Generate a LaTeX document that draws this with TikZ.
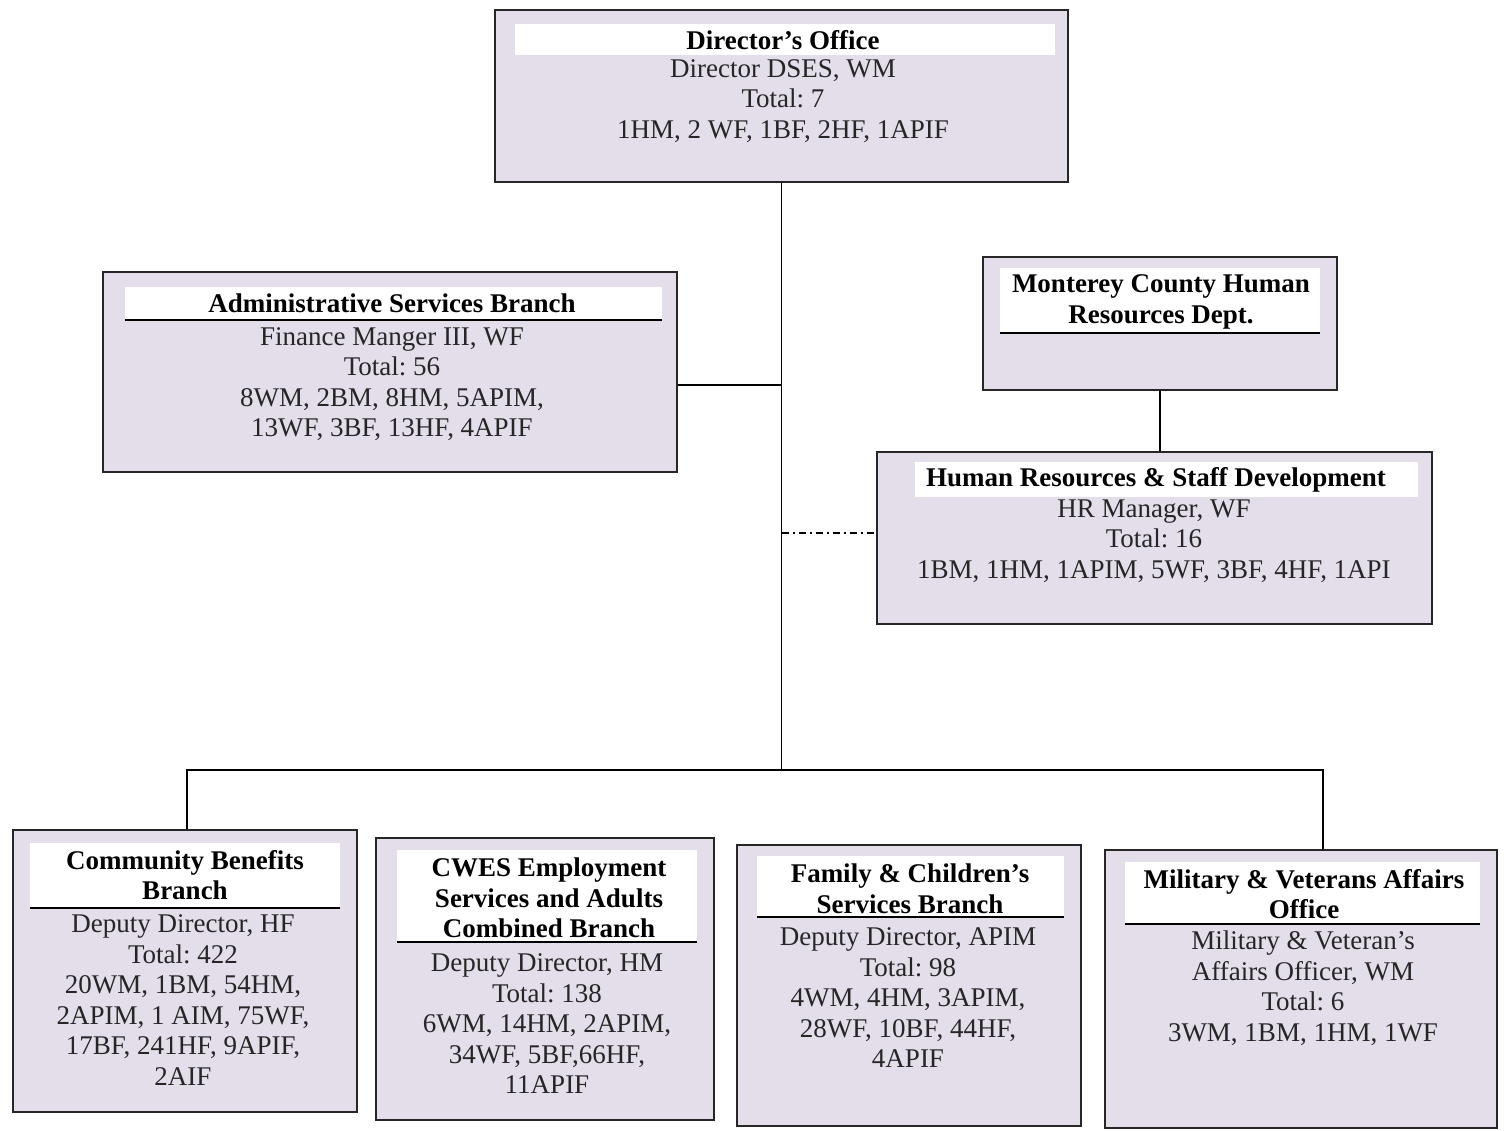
\documentclass[tikz,border=0pt]{standalone}
\usepackage{fontspec}
\setmainfont{Liberation Serif}
\frenchspacing
\definecolor{boxfill}{RGB}{228,221,234}
\begin{document}
\begin{tikzpicture}[x=1pt,y=-1pt,
  unit/.style={draw=black!85, line width=1.8pt, fill=boxfill, inner sep=0pt},
  band/.style={fill=white, draw=none},
  rule/.style={draw=black, line width=1.3pt},
  ttl/.style={font=\fontsize{27}{30.5}\selectfont\bfseries, align=center, inner sep=0pt},
  body/.style={font=\fontsize{27}{30.5}\selectfont, align=center, inner sep=0pt, text=black!85},
  link/.style={draw=black, line width=1.5pt}]
\useasboundingbox[fill=white] (0,0) rectangle (1507,1130);

% boxes
\node[unit, minimum width=573pt, minimum height=172pt] (dir) at (781.5,96) {};
\node[unit, minimum width=574pt, minimum height=200pt] (adm) at (390,372) {};
\node[unit, minimum width=354pt, minimum height=133pt] (mc) at (1160,323.5) {};
\node[unit, minimum width=555pt, minimum height=172pt] (hr) at (1154.5,538) {};
\node[unit, minimum width=344pt, minimum height=282pt] (cb) at (185,971) {};
\node[unit, minimum width=338pt, minimum height=282pt] (cw) at (545,979) {};
\node[unit, minimum width=344pt, minimum height=281pt] (fc) at (909,985.5) {};
\node[unit, minimum width=392pt, minimum height=278pt] (mil) at (1301,989) {};

% title bands
\fill[band] (515,24) rectangle (1055,55);
\fill[band] (125,287) rectangle (662,320); \draw[rule] (125,320) -- (662,320);
\fill[band] (1000,268) rectangle (1320,333); \draw[rule] (1000,333) -- (1320,333);
\fill[band] (915,462) rectangle (1418,497);
\fill[band] (30,843) rectangle (340,908); \draw[rule] (30,908) -- (340,908);
\fill[band] (397,850) rectangle (697,942); \draw[rule] (397,942) -- (697,942);
\fill[band] (757,856) rectangle (1064,917); \draw[rule] (757,917) -- (1064,917);
\fill[band] (1125,862) rectangle (1480,924); \draw[rule] (1125,924) -- (1480,924);

% texts
\node[ttl] (dirT) at (783,40) {Director’s Office};
\node[body] (dirB) at (783,101) {Director DSES, WM\\Total: 7\\1HM, 2 WF, 1BF, 2HF, 1APIF};
\node[ttl] (admT) at (392,303) {Administrative Services Branch};
\node[body] (admB) at (392,384) {Finance Manger III, WF\\Total: 56\\8WM, 2BM, 8HM, 5APIM,\\13WF, 3BF, 13HF, 4APIF};
\node[ttl] (mcT) at (1161,302) {Monterey County Human\\Resources Dept.};
\node[ttl] (hrT) at (1156,480) {Human Resources \& Staff Development};
\node[body] (hrB) at (1154,541) {HR Manager, WF\\Total: 16\\1BM, 1HM, 1APIM, 5WF, 3BF, 4HF, 1API};
\node[ttl] (cbT) at (185,875) {Community Benefits\\Branch};
\node[body] (cbB) at (183,1000) {Deputy Director, HF\\Total: 422\\20WM, 1BM, 54HM,\\2APIM, 1 AIM, 75WF,\\17BF, 241HF, 9APIF,\\2AIF};
\node[ttl] (cwT) at (549,898) {CWES Employment\\Services and Adults\\Combined Branch};
\node[body] (cwB) at (547,1024) {Deputy Director, HM\\Total: 138\\6WM, 14HM, 2APIM,\\34WF, 5BF,66HF,\\11APIF};
\node[ttl] (fcT) at (910,889) {Family \& Children’s\\Services Branch};
\node[body] (fcB) at (908,998) {Deputy Director, APIM\\Total: 98\\4WM, 4HM, 3APIM,\\28WF, 10BF, 44HF,\\4APIF};
\node[ttl] (milT) at (1304,894) {Military \& Veterans Affairs\\Office};
\node[body] (milB) at (1303,988) {Military \& Veteran’s\\Affairs Officer, WM\\Total: 6\\3WM, 1BM, 1HM, 1WF};

% connectors
\coordinate (jA) at (dir.south |- 0,385);
\coordinate (jH) at (dir.south |- 0,533);
\coordinate (bus) at (dir.south |- 0,770);
\coordinate (cbD) at (187,770);
\coordinate (milD) at (1323,770);
\draw[link] (dir.south) -- (bus);
\draw[link] (adm.east |- jA) -- (jA);
\draw[link, dash pattern=on 7pt off 4pt on 2pt off 4pt] (jH) -- (hr.west |- jH);
\draw[link] (mc.south) -- (mc.south |- hr.north);
\draw[link] (cbD |- cb.north) -- (cbD) -- (milD) -- (milD |- mil.north);
\end{tikzpicture}
\end{document}
